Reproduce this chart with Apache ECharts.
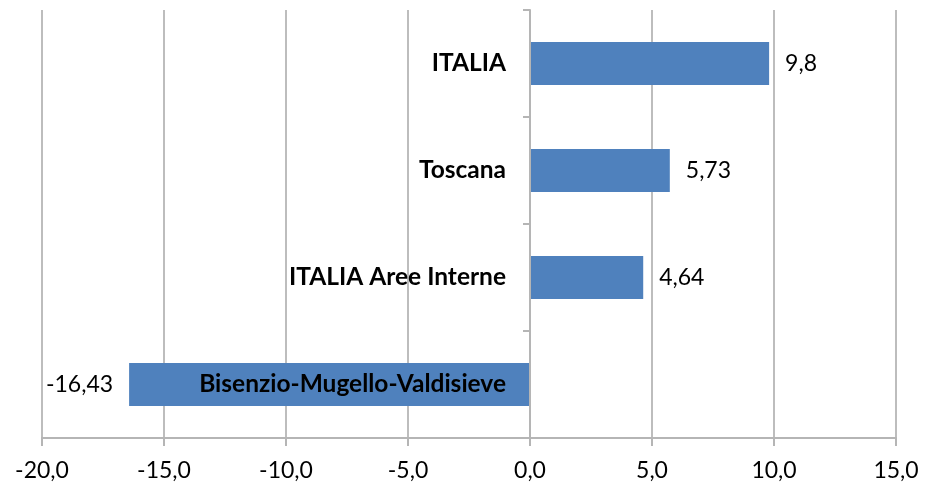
<!DOCTYPE html>
<html>
<head>
<meta charset="utf-8">
<script src="https://cdn.jsdelivr.net/npm/echarts@6/dist/echarts.min.js"></script>
<style>
  html, body { margin: 0; padding: 0; background: #fff; }
  #chart { width: 935px; height: 485px; }
</style>
</head>
<body>
<div id="chart"></div>
<script>
// dati (dall'alto verso il basso)
var categories = ['ITALIA', 'Toscana', 'ITALIA Aree Interne', 'Bisenzio-Mugello-Valdisieve']
var values = [9.8, 5.73, 4.64, -16.43]
var valueLabels = ['9,8', '5,73', '4,64', '-16,43']

var chart = echarts.init(document.getElementById('chart'))

function comma(v) {
  return v.toFixed(1).replace('.', ',')
}

chart.setOption({
  animation: false,
  textStyle: { fontFamily: 'Lato' },
  grid: {
    left: 42,
    right: 39,
    top: 10,
    bottom: 47,
    containLabel: false,
    outerBoundsMode: 'none'
  },
  xAxis: {
    type: 'value',
    min: -20,
    max: 15,
    interval: 5,
    axisLine: {
      show: true,
      lineStyle: { color: '#b5b5b5', width: 2 }
    },
    axisTick: {
      show: true,
      length: 8,
      lineStyle: { color: '#b5b5b5', width: 2 }
    },
    axisLabel: {
      color: '#000',
      fontSize: 23,
      margin: 21,
      formatter: comma
    },
    splitLine: {
      lineStyle: { color: '#bdbdbd', width: 2 }
    }
  },
  yAxis: {
    type: 'category',
    inverse: true,
    position: 'left',
    offset: -488, // asse sullo zero
    data: categories,
    axisLine: {
      onZero: false,
      lineStyle: { color: '#b5b5b5', width: 2 }
    },
    axisTick: {
      show: true,
      length: 7,
      lineStyle: { color: '#b5b5b5', width: 2 }
    },
    axisLabel: {
      color: '#000',
      fontSize: 24.5,
      fontWeight: 'bold',
      margin: 24
    },
    z: 10
  },
  series: [{
    type: 'bar',
    barWidth: '40%',
    itemStyle: { color: '#4f81bd' },
    label: {
      show: true,
      color: '#000',
      fontSize: 23,
      distance: 16,
      position: 'right',
      formatter: function (p) {
        return valueLabels[p.dataIndex]
      }
    },
    data: values.map(function (v) {
      return v < 0 ? { value: v, label: { position: 'left' } } : v
    })
  }]
})
</script>
</body>
</html>
